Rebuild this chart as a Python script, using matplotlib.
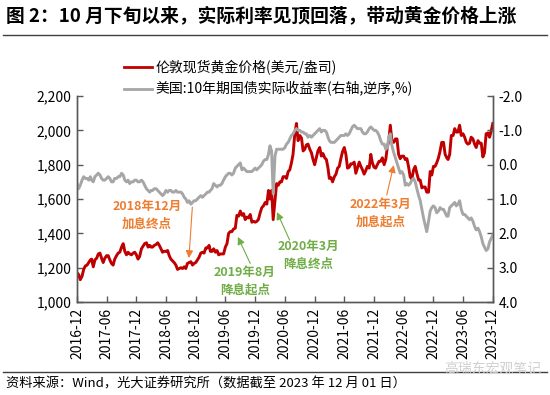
import matplotlib.pyplot as plt
import matplotlib.dates as mdates
import pandas as pd
from matplotlib.lines import Line2D
from matplotlib.ticker import FuncFormatter

plt.rcParams['font.family'] = ['Noto Sans CJK SC', 'DejaVu Sans']

# ======= DATOS (3 puntos por mes: dias 1, 11, 21) ======= #

months = pd.period_range('2016-12', '2023-11', freq='M')
dates = [pd.Timestamp(f'{m}-{d:02d}') for m in months for d in (1, 11, 21)]
dates.append(pd.Timestamp('2023-12-01'))

gold = [
    1170, 1160, 1130,
    # 2017
    1150, 1190, 1210, 1215, 1230, 1245, 1250, 1205, 1245, 1255, 1280, 1285,
    1255, 1230, 1255, 1270, 1270, 1245, 1225, 1215, 1250, 1270, 1285, 1290,
    1320, 1340, 1295, 1275, 1290, 1280, 1275, 1285, 1290, 1275, 1250, 1265,
    # 2018
    1310, 1325, 1340, 1345, 1320, 1330, 1320, 1320, 1330, 1335, 1345, 1330,
    1310, 1290, 1295, 1295, 1300, 1270, 1250, 1240, 1230, 1215, 1190, 1195,
    1200, 1195, 1205, 1195, 1225, 1230, 1235, 1215, 1225, 1230, 1245, 1260,
    # 2019
    1285, 1290, 1285, 1315, 1315, 1330, 1295, 1295, 1310, 1290, 1300, 1275,
    1280, 1280, 1280, 1320, 1340, 1400, 1410, 1410, 1425, 1430, 1505, 1500,
    1530, 1505, 1515, 1480, 1495, 1490, 1510, 1465, 1470, 1465, 1470, 1480,
    # 2020
    1520, 1550, 1560, 1580, 1570, 1650, 1600, 1650, 1480, 1590, 1690, 1680,
    1700, 1700, 1730, 1730, 1720, 1760, 1770, 1810, 1860, 1980, 2040, 1940,
    1970, 1955, 1880, 1890, 1915, 1920, 1890, 1870, 1830, 1800, 1840, 1880,
    # 2021
    1900, 1850, 1865, 1840, 1830, 1780, 1720, 1725, 1700, 1730, 1745, 1780,
    1790, 1835, 1875, 1900, 1860, 1780, 1785, 1805, 1805, 1815, 1750, 1780,
    1815, 1790, 1770, 1745, 1765, 1790, 1780, 1860, 1810, 1785, 1780, 1800,
    # 2022
    1820, 1820, 1840, 1800, 1830, 1905, 1935, 2030, 1935, 1930, 1950, 1950,
    1860, 1835, 1850, 1850, 1830, 1835, 1790, 1730, 1715, 1770, 1790, 1750,
    1710, 1710, 1665, 1670, 1670, 1640, 1640, 1760, 1740, 1790, 1790, 1810,
    # 2023
    1840, 1880, 1930, 1930, 1860, 1840, 1830, 1860, 1970, 1970, 2010, 1990,
    1990, 2030, 1970, 1980, 1960, 1930, 1920, 1925, 1960, 1950, 1920, 1900,
    1940, 1925, 1925, 1845, 1870, 1980, 1985, 1960, 1995,
    2040,
]

real_yield = [
    0.55, 0.70, 0.60,
    # 2017
    0.45, 0.35, 0.40, 0.40, 0.45, 0.35, 0.45, 0.50, 0.35, 0.30, 0.25, 0.30,
    0.40, 0.45, 0.45, 0.40, 0.35, 0.40, 0.50, 0.50, 0.40, 0.40, 0.35, 0.35,
    0.25, 0.30, 0.45, 0.50, 0.45, 0.55, 0.50, 0.50, 0.45, 0.45, 0.50, 0.50,
    # 2018
    0.45, 0.50, 0.60, 0.70, 0.75, 0.80, 0.75, 0.75, 0.70, 0.70, 0.75, 0.80,
    0.85, 0.90, 0.85, 0.75, 0.80, 0.75, 0.75, 0.80, 0.80, 0.75, 0.80, 0.80,
    0.80, 0.85, 0.95, 1.00, 1.10, 1.05, 1.15, 1.10, 1.05, 1.05, 1.00, 0.95,
    # 2019
    0.90, 0.95, 0.90, 0.85, 0.80, 0.80, 0.75, 0.70, 0.55, 0.60, 0.65, 0.60,
    0.60, 0.55, 0.45, 0.35, 0.30, 0.25, 0.25, 0.30, 0.25, 0.10, 0.05, 0.00,
    -0.05, 0.15, 0.10, 0.15, 0.20, 0.20, 0.20, 0.20, 0.15, 0.10, 0.15, 0.10,
    # 2020
    0.05, 0.00, -0.10, -0.15, -0.15, -0.30, -0.55, -0.40, 0.85, -0.25, -0.45, -0.45,
    -0.45, -0.45, -0.45, -0.50, -0.60, -0.65, -0.75, -0.85, -0.90, -1.00, -1.05, -1.00,
    -1.00, -0.95, -0.95, -0.90, -0.90, -0.80, -0.85, -0.80, -0.85, -0.90, -0.95, -1.00,
    # 2021
    -1.05, -0.95, -1.00, -1.00, -0.95, -0.80, -0.70, -0.65, -0.65, -0.65, -0.70, -0.75,
    -0.80, -0.85, -0.85, -0.85, -0.90, -0.85, -0.90, -1.00, -1.10, -1.15, -1.10, -1.05,
    -1.05, -1.05, -0.95, -0.90, -0.90, -0.95, -1.05, -1.10, -1.05, -1.00, -1.00, -0.95,
    # 2022
    -0.85, -0.70, -0.60, -0.60, -0.45, -0.50, -0.80, -0.90, -0.55, -0.35, -0.20, -0.05,
    0.10, 0.25, 0.20, 0.30, 0.60, 0.55, 0.60, 0.55, 0.45, 0.40, 0.50, 0.70,
    0.90, 1.05, 1.30, 1.55, 1.75, 1.95, 1.65, 1.35, 1.25, 1.20, 1.25, 1.40,
    # 2023
    1.35, 1.25, 1.30, 1.30, 1.40, 1.50, 1.50, 1.25, 1.20, 1.15, 1.10, 1.20,
    1.15, 1.05, 1.30, 1.45, 1.45, 1.50, 1.55, 1.60, 1.55, 1.65, 1.80, 1.90,
    1.85, 1.95, 2.10, 2.30, 2.40, 2.50, 2.45, 2.25, 2.15,
    2.05,
]

labels = ['伦敦现货黄金价格(美元/盎司)', '美国:10年期国债实际收益率(右轴,逆序,%)']

title = '图 2：10 月下旬以来，实际利率见顶回落，带动黄金价格上涨'
source = '资料来源：Wind，光大证券研究所（数据截至 2023 年 12 月 01 日）'

# anotaciones: (texto, color, punta de flecha, inicio de flecha, centro del texto)
ORANGE = '#ED7D31'
GREEN = '#70AD47'
notes = [
    ('2018年12月\n加息终点', ORANGE, ('2018-10-20', 1256), ('2018-11-10', 1553), ('2018-02-05', 1507)),
    ('2019年8月\n降息起点', GREEN, ('2019-08-17', 1379), ('2019-11-01', 1225), ('2019-09-28', 1122)),
    ('2020年3月\n降息终点', GREEN, ('2020-04-13', 1524), ('2020-06-30', 1361), ('2020-10-25', 1271)),
    ('2022年3月\n加息起点', ORANGE, ('2022-04-01', 1798), ('2022-02-17', 1623), ('2022-01-12', 1518)),
]

RED = '#C00000'
GREY = '#A6A6A6'
AXC = '#595959'

# ======= GRAFICO ======= #

fig = plt.figure(figsize=(5.5, 3.95), dpi=100)
ax = fig.add_axes([0.14, 0.2354, 0.756, 0.5215])
ax2 = ax.twinx()

ax.plot(dates, gold, color=RED, lw=2.1)
ax2.plot(dates, real_yield, color=GREY, lw=2.1)

ax.set_xlim(pd.Timestamp('2016-12-01'), pd.Timestamp('2023-12-01'))
ax.set_ylim(1000, 2200)
ax2.set_ylim(4.0, -2.0)

ax.set_yticks(range(1000, 2201, 200))
ax.yaxis.set_major_formatter(FuncFormatter(lambda v, p: f'{v:,.0f}'))
ax2.set_yticks([-2, -1, 0, 1, 2, 3, 4])
ax2.yaxis.set_major_formatter(FuncFormatter(lambda v, p: f'{v:.1f}'))

ax.xaxis.set_major_locator(mdates.MonthLocator(bymonth=[6, 12]))
ax.xaxis.set_major_formatter(mdates.DateFormatter('%Y-%m'))
for lbl in ax.get_xticklabels():
    lbl.set_rotation(90)

for a in (ax, ax2):
    a.spines['top'].set_visible(False)
    for s in ('left', 'right', 'bottom'):
        a.spines[s].set_color(AXC)
        a.spines[s].set_linewidth(1.0)
    a.tick_params(direction='in', length=4, width=1, color=AXC,
                  labelsize=10, labelcolor='black', pad=4)

def dn(d):
    return mdates.date2num(pd.Timestamp(d))

for text, c, tip, start, pos in notes:
    ax2.annotate('', xy=(dn(tip[0]), tip[1]), xytext=(dn(start[0]), start[1]),
                 xycoords=ax.transData, textcoords=ax.transData,
                 arrowprops=dict(arrowstyle='-|>', color=c, lw=0.8,
                                 mutation_scale=11, shrinkA=0, shrinkB=0))
    ax2.text(dn(pos[0]), pos[1], text, transform=ax.transData,
             color=c, fontsize=9, fontweight='bold', ha='center', va='center',
             linespacing=1.45)

handles = [Line2D([], [], color=RED, lw=2), Line2D([], [], color=GREY, lw=2)]
fig.legend(handles, labels, loc='upper left', bbox_to_anchor=(0.225, 0.848),
           frameon=False, fontsize=10, handlelength=2.0, handletextpad=0.3,
           labelspacing=0.45, borderpad=0, borderaxespad=0)

fig.text(0.01, 1 - 16 / 395, title, fontsize=13.5, fontweight='bold', va='center')
fig.add_artist(Line2D([0.005, 0.995], [1 - 35 / 395] * 2, color='#404040', lw=1))
fig.add_artist(Line2D([0.005, 0.995], [1 - 372 / 395] * 2, color='#404040', lw=1))
fig.text(0.01, 1 - 384 / 395, source, fontsize=9.5, va='center')
fig.text(0.985, 1 - 369 / 395, '高瑞东宏观笔记', fontsize=10, color='#d0d0d0',
         ha='right', va='center')

fig.savefig('out.png', dpi=100)
